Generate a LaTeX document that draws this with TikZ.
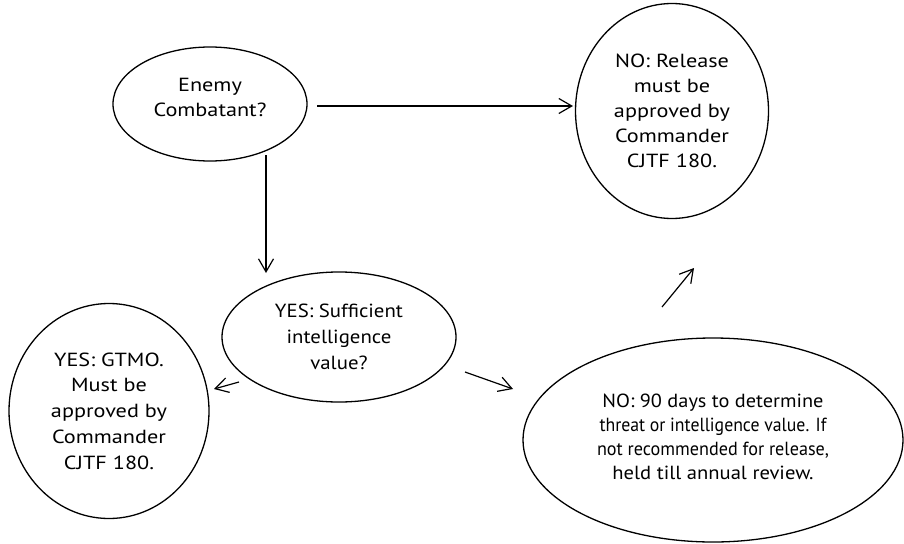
\documentclass[tikz,border=0pt]{standalone}
\usepackage{fontspec}
\setmainfont{PT Sans}
\newfontfamily\widesans[FakeStretch=1.17]{PT Sans}
\newfontfamily\midsans[FakeStretch=1.095]{PT Sans}
\usetikzlibrary{shapes.geometric,arrows.meta}
\newcommand\stretchline[2]{{\addfontfeature{FakeStretch=#1}#2}}
\begin{document}
\begin{tikzpicture}[x=1pt,y=-1pt,
  bubble/.style={draw,ellipse,line width=1.3pt,inner sep=0pt,align=center},
  bigtext/.style={font=\widesans\fontsize{19}{25}\selectfont},
  link/.style={line width=1.2pt,-{Straight Barb[length=13pt,width=15pt,line width=1.2pt]}}]
\useasboundingbox (0,0) rectangle (904,543);
\node[bubble,bigtext,minimum width=194pt,minimum height=114pt,text depth=14pt] (enemy) at (210,104) {Enemy\\Combatant?};
\node[bubble,bigtext,minimum width=193pt,minimum height=215pt] (release) at (672,111) {NO: Release\\must be\\approved by\\Commander\\CJTF 180.};
\node[bubble,font=\midsans\fontsize{19}{26}\selectfont,minimum width=234pt,minimum height=130pt] (intel) at (339,337) {YES: Sufficient\\intelligence\\value?};
\node[bubble,font=\widesans\fontsize{19}{25.8}\selectfont,minimum width=200pt,minimum height=215pt] (gtmo) at (109,411) {YES: GTMO.\\Must be\\approved by\\Commander\\CJTF 180.};
\node[bubble,font=\fontsize{19}{24}\selectfont,minimum width=380pt,minimum height=204pt,text depth=6pt] (ninety) at (713,440) {\stretchline{1.07}{NO: 90 days to determine}\\\stretchline{0.935}{threat or intelligence value. If}\\\stretchline{0.956}{not recommended for release,}\\\stretchline{1.085}{held till annual review.}};
\coordinate (a1s) at (317,106); \coordinate (a1e) at (573,106);
\coordinate (a2s) at (266,155); \coordinate (a2e) at (266,273);
\coordinate (a3s) at (239,382); \coordinate (a3e) at (214,389);
\coordinate (a4s) at (465,372); \coordinate (a4e) at (513,389);
\coordinate (a5s) at (662,307); \coordinate (a5e) at (694,268);
\draw[link] (a1s) -- (a1e);
\draw[link] (a2s) -- (a2e);
\draw[link] (a3s) -- (a3e);
\draw[link] (a4s) -- (a4e);
\draw[link] (a5s) -- (a5e);
\end{tikzpicture}
\end{document}
